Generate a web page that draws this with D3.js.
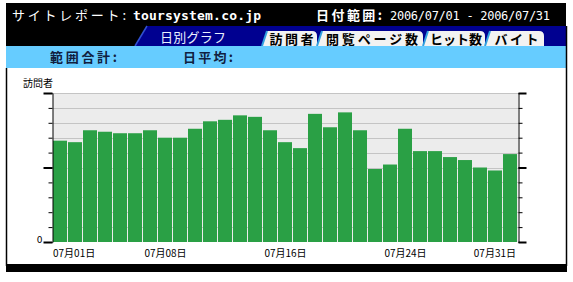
<!DOCTYPE html>
<html>
<head>
<meta charset="utf-8">
<script src="https://cdn.jsdelivr.net/npm/d3@7"></script>
<style>
  body { margin: 0; background: #fff; }
  svg { display: block; }
  text { font-family: "Noto Sans CJK JP", "DejaVu Sans", sans-serif; }
</style>
</head>
<body>
<div id="chart"></div>
<script>
const width = 573;
const height = 282;

// visitors per day, July 2006
const days = d3.range(1, 32);
const visitors = [68, 67, 75, 74, 73, 73, 75, 70, 70, 76, 81, 82, 85, 84, 75, 67,
  63, 86, 77, 87, 75, 49, 52, 76, 61, 61, 57, 55, 50, 48, 59];
const gridTicks = d3.range(0, 101, 10);
const majorTicks = [0, 50, 100];
const labelDays = [1, 8, 16, 24, 31];
const tabs = ["訪問者", "閲覧ページ数", "ヒット数", "バイト"];
const tabEdges = [262, 317, 423, 485, 544];
const tabTextWidths = [44, 92, 52, 44];

const svg = d3.select("#chart")
  .append("svg")
  .attr("width", width)
  .attr("height", height);

//-------- header --------
svg.append("rect")
  .attr("x", 6).attr("y", 3)
  .attr("width", 560).attr("height", 43)
  .attr("fill", "#000");

// dark blue tab strip with slanted left edge
svg.append("path")
  .attr("d", "M135,46 L147,26 L566,26 L566,46 Z")
  .attr("fill", "#000090");
svg.append("path")
  .attr("d", "M135,46 L147,26")
  .attr("stroke", "#3050d0")
  .attr("stroke-width", 1.5);

svg.append("text")
  .attr("x", 12).attr("y", 20)
  .attr("fill", "#fff")
  .attr("font-size", 13)
  .attr("textLength", 114)
  .text("サイトレポート:");
svg.append("text")
  .attr("x", 133).attr("y", 20)
  .attr("fill", "#fff")
  .attr("font-size", 13)
  .attr("font-weight", "bold")
  .attr("textLength", 128)
  .style("font-family", "DejaVu Sans Mono")
  .text("toursystem.co.jp");

svg.append("text")
  .attr("x", 316).attr("y", 20)
  .attr("fill", "#fff")
  .attr("font-size", 13)
  .attr("font-weight", "bold")
  .attr("textLength", 66)
  .text("日付範囲:");
svg.append("text")
  .attr("x", 390).attr("y", 20)
  .attr("fill", "#fff")
  .attr("font-size", 12)
  .attr("textLength", 160)
  .style("font-family", "DejaVu Sans Mono")
  .text("2006/07/01 - 2006/07/31");

svg.append("text")
  .attr("x", 160).attr("y", 42)
  .attr("fill", "#e8f0ff")
  .attr("font-size", 13)
  .attr("textLength", 66)
  .text("日別グラフ");

// white tabs
tabs.forEach((t, i) => {
  const x0 = tabEdges[i], x1 = tabEdges[i + 1];
  svg.append("path")
    .attr("d", `M${x0},46 L${x0 + 5},31 L${x1 - 5},31 Q${x1},31 ${x1},36 L${x1},46 Z`)
    .attr("fill", "#f2f2f2");
  svg.append("path")
    .attr("d", `M${x0},46 L${x0 + 5},31`)
    .attr("stroke", "#30a0e0")
    .attr("stroke-width", 2);
  svg.append("text")
    .attr("x", (x0 + x1) / 2 + 2).attr("y", 44)
    .attr("text-anchor", "middle")
    .attr("font-size", 13)
    .attr("font-weight", "bold")
    .attr("fill", "#000")
    .attr("textLength", tabTextWidths[i])
    .text(t);
});

// light blue summary band
svg.append("rect")
  .attr("x", 6).attr("y", 46)
  .attr("width", 560).attr("height", 22)
  .attr("fill", "#66ccff");
svg.append("text")
  .attr("x", 50).attr("y", 62)
  .attr("font-size", 13).attr("font-weight", "bold")
  .attr("fill", "#102040")
  .attr("textLength", 67)
  .text("範囲合計:");
svg.append("text")
  .attr("x", 183).attr("y", 62)
  .attr("font-size", 13).attr("font-weight", "bold")
  .attr("fill", "#102040")
  .attr("textLength", 50)
  .text("日平均:");

// frame
svg.append("line")
  .attr("x1", 6.5).attr("x2", 6.5).attr("y1", 68).attr("y2", 266)
  .attr("stroke", "#000").attr("stroke-width", 1.5);
svg.append("line")
  .attr("x1", 566.5).attr("x2", 566.5).attr("y1", 26).attr("y2", 266)
  .attr("stroke", "#000").attr("stroke-width", 1.5);
svg.append("rect")
  .attr("x", 6).attr("y", 264)
  .attr("width", 561).attr("height", 8)
  .attr("fill", "#000");

//-------- chart --------
const x = d3.scaleBand()
  .domain(days)
  .range([53, 518])
  .padding(0);

const y = d3.scaleLinear()
  .domain([0, 100])
  .range([242, 93]);

svg.append("rect")
  .attr("x", 53).attr("y", y(100))
  .attr("width", 465).attr("height", y(0) - y(100))
  .attr("fill", "#ececec");

svg.append("g")
  .selectAll("line")
  .data(gridTicks.filter((d) => d > 0))
  .enter()
  .append("line")
  .attr("x1", 53).attr("x2", 518)
  .attr("y1", (d) => Math.round(y(d)) + 0.5)
  .attr("y2", (d) => Math.round(y(d)) + 0.5)
  .attr("stroke", "#c4c4c4");

svg.append("g")
  .selectAll("rect")
  .data(visitors)
  .enter()
  .append("rect")
  .attr("x", (d, i) => x(days[i]))
  .attr("y", (d) => y(d))
  .attr("width", x.bandwidth() - 1)
  .attr("height", (d) => y(0) - y(d))
  .attr("fill", "#2aa045");

// axes
const leftMinor = svg.append("g")
  .attr("transform", "translate(52.5,0)")
  .call(d3.axisLeft(y).tickValues(gridTicks).tickSize(4).tickSizeOuter(0).tickFormat(""));
const leftMajor = svg.append("g")
  .attr("transform", "translate(52.5,0)")
  .call(d3.axisLeft(y).tickValues(majorTicks).tickSize(9).tickSizeOuter(0)
    .tickFormat((d) => (d === 0 ? "0" : "")));
leftMajor.select(".domain").remove();
leftMajor.selectAll("line").attr("stroke-width", 2);
leftMajor.selectAll("text")
  .style("font-family", "DejaVu Sans")
  .style("font-size", "9px")
  .attr("x", -10)
  .attr("dy", "0.1em");

const rightMinor = svg.append("g")
  .attr("transform", "translate(518.5,0)")
  .call(d3.axisRight(y).tickValues(gridTicks).tickSize(4).tickSizeOuter(0).tickFormat(""));
const rightMajor = svg.append("g")
  .attr("transform", "translate(518.5,0)")
  .call(d3.axisRight(y).tickValues(majorTicks).tickSize(8).tickSizeOuter(0).tickFormat(""));
rightMajor.select(".domain").remove();
rightMajor.selectAll("line").attr("stroke-width", 2);

// x labels
svg.append("g")
  .selectAll("text")
  .data(labelDays)
  .enter()
  .append("text")
  .attr("x", (d) => {
    if (d === days[0]) return x(d);
    if (d === days[days.length - 1]) return x(d) + x.bandwidth() - 2;
    return x(d) + x.bandwidth() / 2;
  })
  .attr("y", 257)
  .attr("text-anchor", (d) =>
    d === days[0] ? "start" : d === days[days.length - 1] ? "end" : "middle")
  .attr("font-size", 10)
  .attr("fill", "#000")
  .text((d) => "07月" + String(d).padStart(2, "0") + "日");

svg.append("text")
  .attr("x", 23).attr("y", 87)
  .attr("font-size", 10)
  .attr("fill", "#000")
  .text("訪問者");
</script>
</body>
</html>
